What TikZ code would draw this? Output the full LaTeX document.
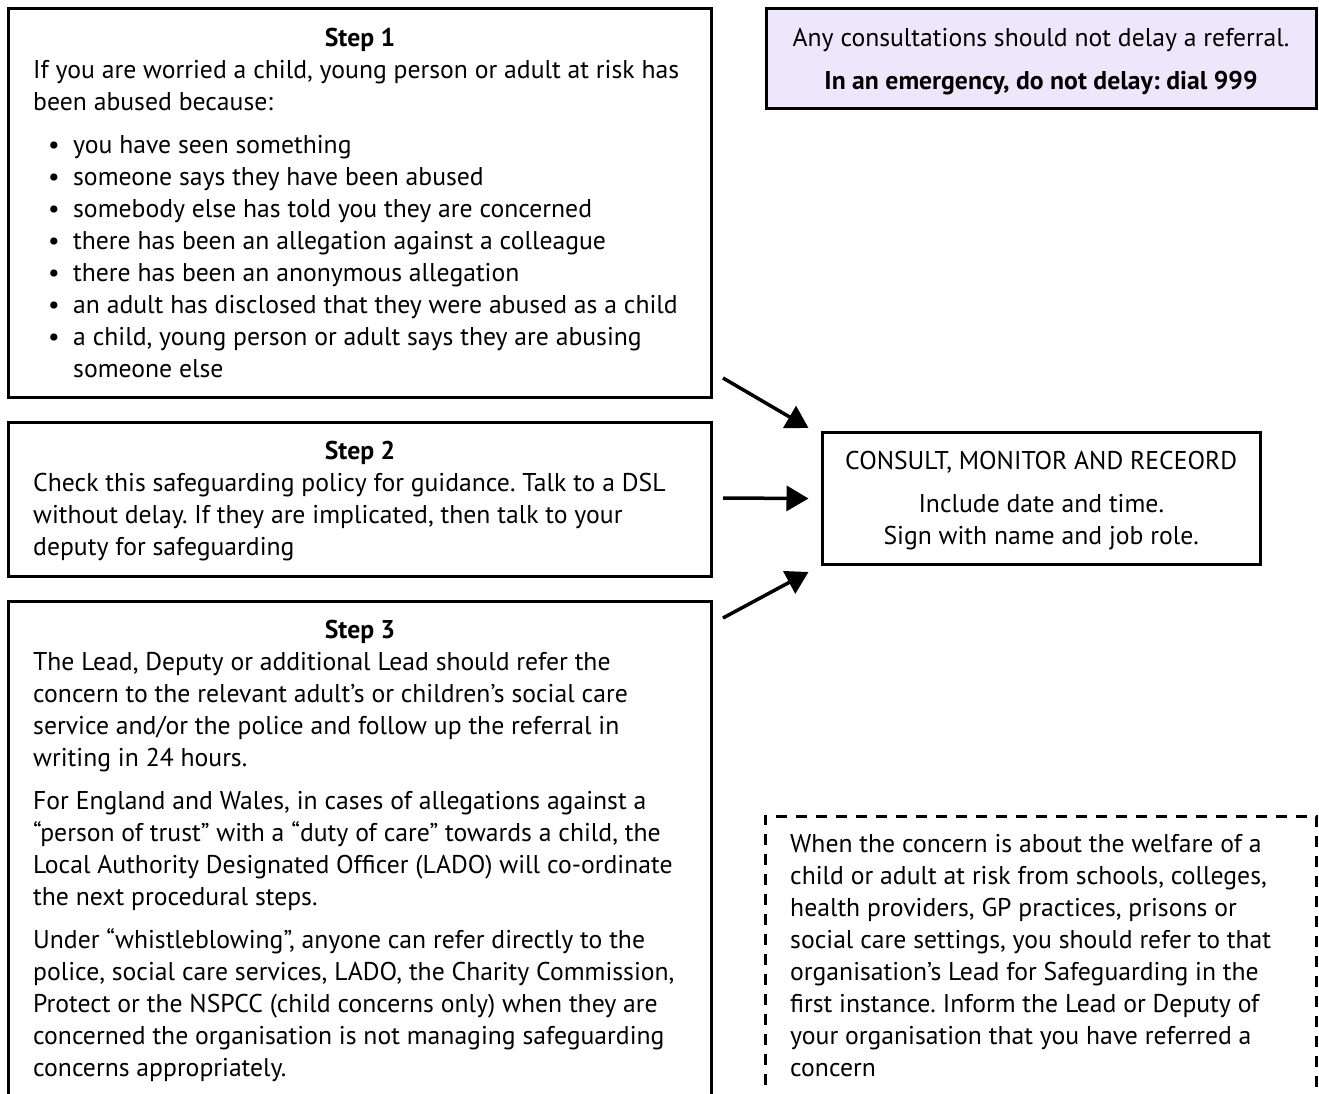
\documentclass[tikz,border=0pt]{standalone}
\usepackage{fontspec}
\setmainfont[Scale=1.07]{PT Sans}
\frenchspacing
\usetikzlibrary{arrows.meta,positioning,calc}
\definecolor{lavender}{HTML}{EEE6FA}
\newcommand{\bodyfont}{\fontsize{24}{32}\selectfont}
\newcommand{\bul}{\hspace*{15pt}\makebox[25pt][l]{\textbullet}}

\begin{document}
\begin{tikzpicture}[x=1pt,y=-1pt,
		box/.style={draw, line width=3pt, inner sep=0pt, anchor=north west},
		head/.style={font=\bodyfont\bfseries, inner sep=0pt},
		txt/.style={font=\bodyfont, align=left, inner sep=0pt, anchor=north west},
		ctxt/.style={font=\bodyfont, align=center, inner sep=0pt},
		arr/.style={-{Triangle[length=22pt,width=25pt]}, line width=3.5pt}]
		\useasboundingbox (0,0) rectangle (1319,1093);
		\clip (0,0) rectangle (1319,1093);
		% the three steps
		\node at (6.5,6.5) [box, minimum width=703pt, minimum height=389pt] (s1) {};
		\node at (6.5,421) [box, minimum width=703pt, minimum height=154pt] (s2) {};
		\node at (6.5,600) [box, minimum width=703pt, minimum height=600pt] (s3) {};
		\node at (360,39.5) [head] (h1) {Step 1};
		\node at (360,452.5) [head] (h2) {Step 2};
		\node at (360,631.5) [head] (h3) {Step 3};
		\node at (33,60) [txt] (t1) {If you are worried a child, young person or adult at risk has\\
			been abused because:\\[11pt]
			\bul you have seen something\\
			\bul someone says they have been abused\\
			\bul somebody else has told you they are concerned\\
			\bul there has been an allegation against a colleague\\
			\bul there has been an anonymous allegation\\
			\bul an adult has disclosed that they were abused as a child\\
			\bul a child, young person or adult says they are abusing\\
			\hspace*{40pt}someone else};
		\node at (33,473) [txt] (t2) {Check this safeguarding policy for guidance. Talk to a DSL\\
			without delay. If they are implicated, then talk to your\\
			deputy for safeguarding};
		\node at (33,652) [txt] (t3) {The Lead, Deputy or additional Lead should refer the\\
			concern to the relevant adult’s or children’s social care\\
			service and/or the police and follow up the referral in\\
			writing in 24 hours.\\[11pt]
			For England and Wales, in cases of allegations against a\\
			“person of trust” with a “duty of care” towards a child, the\\
			Local Authority Designated Officer (LADO) will co-ordinate\\
			the next procedural steps.\\[11pt]
			Under “whistleblowing”, anyone can refer directly to the\\
			police, social care services, LADO, the Charity Commission,\\
			Protect or the NSPCC (child concerns only) when they are\\
			concerned the organisation is not managing safeguarding\\
			concerns appropriately.};
		% right hand side
		\node at (764.5,6.5) [box, fill=lavender, minimum width=550pt, minimum height=100.5pt] (warn) {};
		\node at ([yshift=-3pt]warn.center) [ctxt] (wt) {Any consultations should not delay a referral.\\[11pt]
			\textbf{In an emergency, do not delay: dial 999}};
		\node at (820.5,431) [box, minimum width=438.5pt, minimum height=132pt] (cmr) {};
		\node at ([yshift=-2pt]cmr.center) [ctxt] (ct) {CONSULT, MONITOR AND RECEORD\\[11pt]
			Include date and time.\\
			Sign with name and job role.};
		\node at (764,815) [box, line width=2.5pt, dash pattern=on 11pt off 9pt, minimum width=551pt, minimum height=400pt] (note) {};
		\node at (790,834) [txt] (nt) {When the concern is about the welfare of a\\
			child or adult at risk from schools, colleges,\\
			health providers, GP practices, prisons or\\
			social care settings, you should refer to that\\
			organisation’s Lead for Safeguarding in the\\
			first instance. Inform the Lead or Deputy of\\
			your organisation that you have referred a\\
			concern};
		% arrows into the record box
		\coordinate (a1) at (723,378);
		\coordinate (a2) at (723,498);
		\coordinate (a3) at (723,618);
		\coordinate (e1) at ([xshift=-12pt,yshift=3pt]cmr.north west);
		\coordinate (e3) at ([xshift=-12pt,yshift=-6pt]cmr.south west);
		\draw [arr] (a1) -- (e1);
		\draw [arr] (a2) -- ([xshift=-12pt]cmr.west);
		\draw [arr] (a3) -- (e3);
\end{tikzpicture}
\end{document}
